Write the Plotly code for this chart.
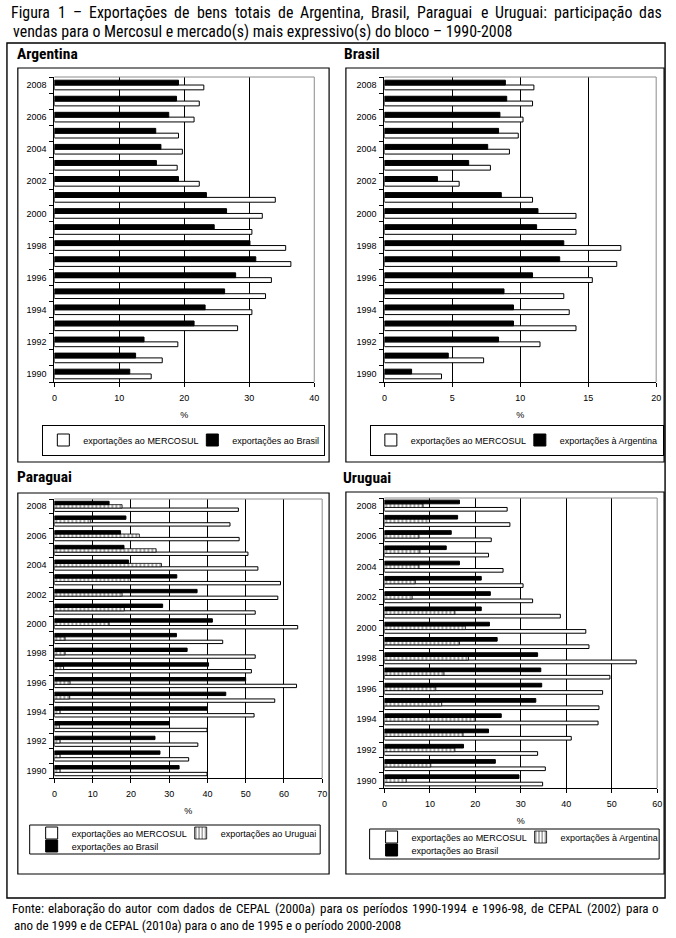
import plotly.graph_objects as go

W, H = 676, 938

years = list(range(1990, 2009))
even_years = list(range(1990, 2009, 2))

# Argentina (% das exportações totais)
arg_mercosul = [14.9, 16.6, 19.0, 28.2, 30.4, 32.5, 33.4, 36.4, 35.6, 30.4,
                32.0, 34.0, 22.3, 18.9, 19.7, 19.1, 21.5, 22.3, 23.0]
arg_brasil = [11.6, 12.5, 13.8, 21.5, 23.2, 26.2, 27.9, 31.0, 30.1, 24.6,
              26.5, 23.4, 19.1, 15.7, 16.4, 15.6, 17.6, 18.8, 19.1]

# Brasil
bra_mercosul = [4.2, 7.3, 11.45, 14.1, 13.6, 13.2, 15.3, 17.1, 17.4, 14.1,
                14.1, 10.9, 5.5, 7.8, 9.2, 9.85, 10.2, 10.9, 11.0]
bra_argentina = [2.0, 4.7, 8.4, 9.5, 9.5, 8.8, 10.9, 12.9, 13.2, 11.2,
                 11.3, 8.6, 3.9, 6.2, 7.6, 8.4, 8.5, 9.0, 8.9]

# Paraguai
par_mercosul = [39.9, 35.1, 37.5, 39.9, 52.2, 57.6, 63.3, 51.5, 52.5, 44.0,
                63.6, 52.5, 58.4, 59.1, 53.2, 50.6, 48.3, 45.9, 48.1]
par_uruguai = [1.5, 1.5, 1.5, 1.3, 1.5, 4.0, 4.1, 2.4, 2.8, 2.8,
               14.3, 18.3, 17.7, 19.9, 28.0, 26.6, 22.2, 9.5, 17.7]
par_brasil = [32.6, 27.6, 26.3, 30.0, 39.9, 44.8, 50.0, 40.3, 34.7, 31.9,
              41.3, 28.3, 37.3, 32.0, 19.4, 18.2, 17.3, 18.7, 14.3]

# Uruguai
uru_mercosul = [34.8, 35.4, 33.7, 41.1, 47.0, 47.2, 48.0, 49.6, 55.4, 45.0,
                44.3, 38.7, 32.6, 30.5, 26.1, 22.9, 23.5, 27.6, 27.0]
uru_argentina = [4.8, 10.2, 15.5, 17.3, 20.0, 12.6, 11.3, 13.1, 18.5, 16.5,
                 17.8, 15.5, 6.1, 6.8, 7.6, 7.8, 7.6, 9.9, 8.5]
uru_brasil = [29.6, 24.4, 17.4, 22.9, 25.7, 33.3, 34.6, 34.4, 33.7, 24.8,
              23.1, 21.3, 23.3, 21.3, 16.5, 13.6, 14.7, 16.1, 16.5]

title_lines = ["Figura 1 – Exportações de bens totais de Argentina, Brasil, Paraguai e Uruguai: participação das",
               "vendas para o Mercosul e mercado(s) mais expressivo(s) do bloco – 1990-2008"]
source_lines = ["Fonte: elaboração do autor com dados de CEPAL (2000a) para os períodos 1990-1994 e 1996-98, de CEPAL (2002) para o",
                "ano de 1999 e de CEPAL (2010a) para o ano de 1995 e o período 2000-2008"]

FONT = "Liberation Sans, Arial, sans-serif"
NARROW = "Roboto Condensed, Liberation Sans, sans-serif"


def px(x):
    return x / W


def py(y):
    return 1 - y / H


WHITE = dict(color="white", line=dict(color="black", width=1))
BLACK = dict(color="black", line=dict(color="black", width=1))
HATCH = dict(color="white",
             pattern=dict(shape="|", fgcolor="black", bgcolor="white", size=4, solidity=0.35),
             line=dict(color="black", width=0.8))

fig = go.Figure()


def bar(vals, name, marker, ax, width, offset, legend, lw=None):
    fig.add_trace(go.Bar(
        x=vals, y=years, orientation="h", name=name, marker=marker,
        xaxis="x" + ax, yaxis="y" + ax, width=width, offset=offset,
        legend=legend, legendwidth=lw, hoverinfo="skip"))


LW1 = 104
# Argentina
bar(arg_mercosul, "exportações ao MERCOSUL", WHITE, "", 0.3, -0.3, "legend", LW1)
bar(arg_brasil, "exportações ao Brasil", BLACK, "", 0.3, 0.0, "legend")
# Brasil
bar(bra_mercosul, "exportações ao MERCOSUL", WHITE, "2", 0.3, -0.3, "legend2", LW1)
bar(bra_argentina, "exportações à Argentina", BLACK, "2", 0.3, 0.0, "legend2")
# Paraguai
bar(par_mercosul, "exportações ao MERCOSUL", WHITE, "3", 0.23, -0.345, "legend3", LW1)
bar(par_uruguai, "exportações ao Uruguai", HATCH, "3", 0.23, -0.115, "legend3")
bar(par_brasil, "exportações ao Brasil", BLACK, "3", 0.23, 0.115, "legend4")
# Uruguai
bar(uru_mercosul, "exportações ao MERCOSUL", WHITE, "4", 0.24, -0.36, "legend5", LW1)
bar(uru_argentina, "exportações à Argentina", HATCH, "4", 0.24, -0.12, "legend5")
bar(uru_brasil, "exportações ao Brasil", BLACK, "4", 0.24, 0.12, "legend6")

TICKFONT = dict(family=FONT, size=9, color="black")


def xax(x0, x1, rng, dtick, anchor):
    return dict(domain=[px(x0), px(x1)], range=rng, dtick=dtick, tick0=0, anchor=anchor,
                showgrid=True, gridcolor="black", gridwidth=1, zeroline=False,
                showline=True, linecolor="black", linewidth=1,
                ticks="outside", ticklen=4, tickcolor="black", ticklabelstandoff=3,
                tickfont=TICKFONT, fixedrange=True,
                title=dict(text="%", font=TICKFONT, standoff=9))


def yax(y0, y1, anchor):
    return dict(domain=[py(y1), py(y0)], range=[1989.5, 2008.5], anchor=anchor,
                tickmode="array", tickvals=even_years, ticks="",
                minor=dict(tickmode="array", tickvals=[1989.5 + i for i in range(20)],
                           ticks="outside", ticklen=4, tickcolor="black"),
                showgrid=False, zeroline=False, showline=True, linecolor="black", linewidth=1,
                tickfont=TICKFONT, ticklabelstandoff=5, fixedrange=True)


shapes = []


def rect(x0, y0, x1, y1, w=1.2, color="black"):
    shapes.append(dict(type="rect", xref="paper", yref="paper",
                       x0=px(x0), x1=px(x1), y0=py(y0), y1=py(y1),
                       line=dict(color=color, width=w), fillcolor="rgba(0,0,0,0)", layer="above"))


# outer frame and panel frames
rect(4, 43, 670, 898, 1.4)
rect(15, 68, 330, 462)
rect(347, 68, 669, 462)
rect(15, 493, 330, 874)
rect(347, 492, 669, 874)
# two-row legend boxes
rect(27, 825, 321, 854, 1)
rect(371, 829, 664, 859, 1)

# grey plot-area borders (top and right)
for ax in ["", "2", "3", "4"]:
    for (a0, b0, a1, b1) in [(0, 1, 1, 1), (1, 0, 1, 1)]:
        shapes.append(dict(type="line", xref="x" + ax + " domain", yref="y" + ax + " domain",
                           x0=a0, y0=b0, x1=a1, y1=b1,
                           line=dict(color="#8c8c8c", width=1), layer="above"))

LEGFONT = dict(family=FONT, size=9, color="black")


def leg(xc, yc, xanchor="center", border=True):
    d = dict(x=px(xc), y=py(yc), xanchor=xanchor, yanchor="middle", orientation="h",
             font=LEGFONT, bgcolor="rgba(0,0,0,0)", itemwidth=30,
             itemclick=False, itemdoubleclick=False)
    if border:
        d.update(bordercolor="black", borderwidth=1)
    return d


# approximate Roboto advance widths (1/1000 em), used to justify text lines
AW = {" ": 248, ",": 196, ".": 263, ":": 242, "-": 276, "(": 342, ")": 342, "–": 560,
      "a": 531, "ã": 531, "b": 547, "c": 510, "ç": 510, "d": 550, "e": 517, "f": 346,
      "g": 548, "h": 538, "i": 237, "í": 237, "j": 233, "k": 495, "l": 237, "m": 855,
      "n": 539, "o": 557, "õ": 557, "p": 547, "q": 552, "r": 331, "s": 504, "t": 320,
      "u": 538, "v": 473, "w": 733, "x": 484, "y": 462, "z": 484,
      "A": 652, "B": 623, "C": 652, "D": 657, "E": 569, "F": 553, "G": 682, "L": 539,
      "M": 875, "O": 677, "P": 631, "R": 615, "S": 594, "U": 649, "I": 272}


def tw(s):
    return sum(AW.get(ch, 562) for ch in s)


ann = []


def text_block(lines, x0, x1, ys, size, ref_last_width):
    # calibrate the width table on the last (unjustified) line
    k = ref_last_width / tw(lines[-1])
    for li, line in enumerate(lines):
        if li < len(lines) - 1:
            words = line.split(" ")
            widths = [tw(w) * k for w in words]
            gap = (x1 - x0 - sum(widths)) / (len(words) - 1)
            x = x0
            for w, wd in zip(words, widths):
                ann.append(dict(text=w, x=px(x + wd / 2), y=py(ys[li]), xanchor="center",
                                yanchor="middle", xref="paper", yref="paper", showarrow=False,
                                font=dict(family=NARROW, size=size, color="black")))
                x += wd + gap
        else:
            ann.append(dict(text=line, x=px(x0), y=py(ys[li]), xanchor="left", yanchor="middle",
                            xref="paper", yref="paper", showarrow=False,
                            font=dict(family=NARROW, size=size, color="black")))


text_block(title_lines, 8, 667, [13, 32], 15.9, 504)
text_block(source_lines, 9, 664, [908, 925], 13.0, 391)

for name, x, y in [("Argentina", 12, 54), ("Brasil", 343, 54), ("Paraguai", 12, 477), ("Uruguai", 342, 478)]:
    ann.append(dict(text="<b>" + name + "</b>", x=px(x), y=py(y), xref="paper", yref="paper",
                    xanchor="left", yanchor="middle", showarrow=False,
                    font=dict(family=NARROW, size=15.5, color="black")))

fig.update_layout(
    width=W, height=H, margin=dict(l=0, r=0, t=0, b=0),
    paper_bgcolor="white", plot_bgcolor="white",
    barmode="group", showlegend=True,
    font=dict(family=FONT, size=9, color="black"),
    xaxis=xax(52, 315, [0, 40], 10, "y"),
    yaxis=yax(77, 382, "x"),
    xaxis2=xax(386, 661, [0, 20], 5, "y2"),
    yaxis2=yax(77, 382, "x2"),
    xaxis3=xax(52, 323, [0, 70], 10, "y3"),
    yaxis3=yax(499, 778, "x3"),
    xaxis4=xax(386, 662, [0, 60], 10, "y4"),
    yaxis4=yax(498, 788, "x4"),
    legend=leg(183, 440),
    legend2=leg(520, 440),
    legend3=leg(29, 833, "left", False),
    legend4=leg(29, 846, "left", False),
    legend5=leg(373, 837, "left", False),
    legend6=leg(373, 850, "left", False),
    shapes=shapes,
    annotations=ann,
)

fig.write_html("out.html", config={"displayModeBar": False},
               post_script="document.body.style.margin='0px';document.body.style.overflow='hidden';")
